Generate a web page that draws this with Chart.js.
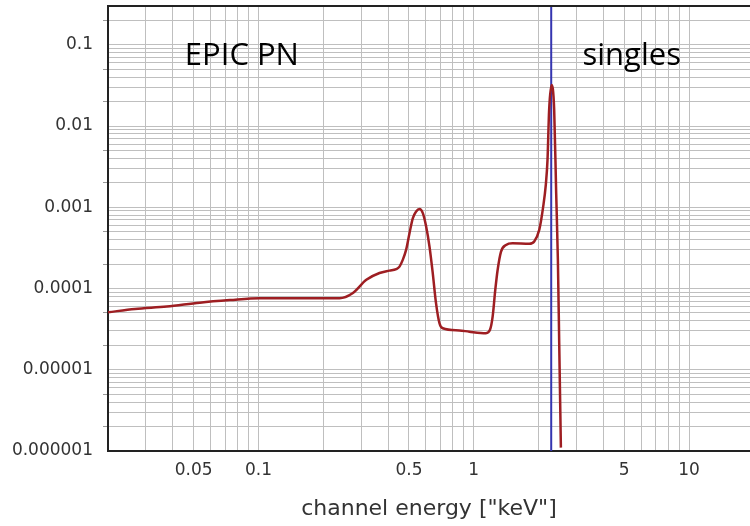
<!DOCTYPE html>
<html>
<head>
<meta charset="utf-8">
<style>
  html, body { margin: 0; padding: 0; background: #fff; }
  #wrap { width: 750px; height: 526px; position: relative; }
</style>
<script src="https://cdn.jsdelivr.net/npm/chart.js@4.4.1/dist/chart.umd.min.js"></script>
</head>
<body>
<div id="wrap"><canvas id="spectrumChart" width="750" height="526"></canvas></div>
<script>
// channel energy (keV) and response
const energy = [0.02, 0.0267, 0.0375, 0.0534, 0.0736, 0.1014, 0.16, 0.238, 0.2735, 0.317, 0.365, 0.406, 0.436, 0.452, 0.468, 0.485, 0.503, 0.521, 0.54, 0.56, 0.58, 0.601, 0.623, 0.645, 0.668, 0.693, 0.718, 0.857, 0.954, 1.14, 1.19, 1.224, 1.259, 1.291, 1.339, 1.412, 1.514, 1.811, 1.91, 2.015, 2.102, 2.162, 2.201, 2.24, 2.296, 2.364, 2.415, 2.46, 2.495, 2.54];
const response = [5.1e-5, 5.6e-5, 6.0e-5, 6.7e-5, 7.2e-5, 7.6e-5, 7.6e-5, 7.6e-5, 8.75e-5, 1.28e-4, 1.55e-4, 1.66e-4, 1.73e-4, 1.86e-4, 2.25e-4, 2.99e-4, 4.8e-4, 7.3e-4, 8.85e-4, 9.5e-4, 8.46e-4, 5.8e-4, 3.28e-4, 1.55e-4, 6.6e-5, 3.74e-5, 3.24e-5, 3.05e-5, 2.94e-5, 2.82e-5, 3.1e-5, 4.5e-5, 9.6e-5, 1.69e-4, 2.85e-4, 3.44e-4, 3.61e-4, 3.55e-4, 3.79e-4, 5.27e-4, 1.02e-3, 1.9e-3, 3.8e-3, 1.58e-2, 3.2e-2, 1.58e-2, 1.5e-3, 2.2e-4, 2.1e-5, 1.1e-6];

// vertical marker (keV)
const singlesEnergy = 2.29;

const xMin = 0.02, xMax = 19.2;
const yMin = 1e-6, yMax = 0.3;

const xLabels = [0.05, 0.1, 0.5, 1, 5, 10];
const yLabels = [0.1, 0.01, 0.001, 0.0001, 0.00001, 0.000001];
const yLabelText = ['0.1', '0.01', '0.001', '0.0001', '0.00001', '0.000001'];

const annotations = [
    { text: 'EPIC PN', x: 0.0455 },
    { text: 'singles', x: 3.2 }
];

const near = (a, b) => Math.abs(a - b) / b < 1e-6;

// 1..9 x 10^n grid between two bounds
const logGrid = (lo, hi) => {
    const out = [];
    for (let e = Math.floor(Math.log10(lo)); e <= Math.ceil(Math.log10(hi)); e++) {
        for (let m = 1; m <= 9; m++) {
            const v = +(m * Math.pow(10, e)).toPrecision(6);
            if (v >= lo * 0.999 && v <= hi * 1.001) out.push(v);
        }
    }
    return out;
};

const isFiveOrTwo = (v) => {
    const m = Math.round(v / Math.pow(10, Math.floor(Math.log10(v) + 1e-9)));
    return m === 2 || m === 5;
};

const textPlugin = {
    id: 'textPlugin',
    afterDraw(chart) {
        const { ctx, chartArea, scales } = chart;
        ctx.save();
        // frame
        ctx.strokeStyle = '#222';
        ctx.lineWidth = 2;
        ctx.beginPath();
        ctx.moveTo(chartArea.left, chartArea.top);
        ctx.lineTo(chartArea.right, chartArea.top);
        ctx.stroke();
        ctx.fillStyle = '#000';
        ctx.font = '31px "Open Sans"';
        ctx.textBaseline = 'alphabetic';
        annotations.forEach(a => {
            ctx.fillText(a.text, scales.x.getPixelForValue(a.x), 65);
        });
        ctx.restore();
    }
};

const ctx = document.getElementById('spectrumChart');

new Chart(ctx, {
    type: 'line',
    data: {
        datasets: [
            {
                data: [{ x: singlesEnergy, y: yMin }, { x: singlesEnergy, y: yMax }],
                borderColor: '#3535b0',
                borderWidth: 2,
                pointRadius: 0,
                tension: 0,
                order: 1
            },
            {
                data: energy.map((e, i) => ({ x: e, y: response[i] })),
                borderColor: 'rgb(158, 30, 34)',
                borderWidth: 2.5,
                pointRadius: 0,
                cubicInterpolationMode: 'monotone',
                order: 0
            }
        ]
    },
    options: {
        responsive: false,
        animation: false,
        devicePixelRatio: 1,
        layout: { padding: { top: 6, right: 0, left: 0, bottom: 0 } },
        plugins: {
            legend: { display: false },
            tooltip: { enabled: false }
        },
        scales: {
            x: {
                type: 'logarithmic',
                min: xMin,
                max: xMax,
                afterBuildTicks: (scale) => {
                    scale.ticks = logGrid(xMin, xMax).map(v => ({ value: v }));
                },
                afterFit: (scale) => {
                    scale.height = 75;
                    scale.paddingLeft = 0;
                    scale.paddingRight = 0;
                },
                grid: {
                    color: '#bfbfbf',
                    lineWidth: 1,
                    tickLength: 5,
                    tickColor: 'rgba(0,0,0,0)'
                },
                border: { color: '#222', width: 2 },
                ticks: {
                    autoSkip: false,
                    maxRotation: 0,
                    padding: 4,
                    color: '#333',
                    font: { family: 'DejaVu Sans', size: 17 },
                    callback: (value) => {
                        const hit = xLabels.find(l => near(value, l));
                        return hit !== undefined ? String(hit) : '';
                    }
                },
                title: {
                    display: true,
                    text: 'channel energy ["keV"]',
                    color: '#333',
                    font: { family: 'DejaVu Sans', size: 22 },
                    padding: { top: 4, bottom: 4 }
                }
            },
            y: {
                type: 'logarithmic',
                min: yMin,
                max: yMax,
                afterBuildTicks: (scale) => {
                    scale.ticks = logGrid(yMin, yMax).map(v => ({ value: v }));
                },
                afterFit: (scale) => {
                    scale.width = 108;
                    scale.paddingTop = 0;
                    scale.paddingBottom = 0;
                },
                grid: {
                    color: '#bfbfbf',
                    lineWidth: 1,
                    tickLength: 5,
                    tickColor: (c) => (c.tick && isFiveOrTwo(c.tick.value) ? '#999' : 'rgba(0,0,0,0)')
                },
                border: { color: '#222', width: 2 },
                ticks: {
                    autoSkip: false,
                    padding: 10,
                    color: '#333',
                    font: { family: 'DejaVu Sans', size: 17 },
                    callback: (value) => {
                        const i = yLabels.findIndex(l => near(value, l));
                        return i >= 0 ? yLabelText[i] : '';
                    }
                }
            }
        }
    },
    plugins: [textPlugin]
});
</script>
</body>
</html>
